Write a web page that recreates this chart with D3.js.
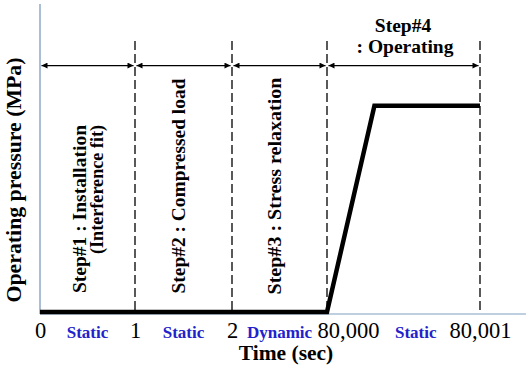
<!DOCTYPE html>
<html>
<head>
<meta charset="utf-8">
<script src="https://cdn.jsdelivr.net/npm/d3@7.9.0/dist/d3.min.js"></script>
<style>
  body { margin: 0; background: #fff; }
  svg { display: block; font-family: "Times New Roman", "Liberation Serif", Times, serif; }
</style>
</head>
<body>
<div id="chart"></div>
<script>
// data
const timeKnots = [0, 1, 2, 80000, 80001];
const tickLabels = ['0', '1', '2', '80,000', '80,001'];
const pressureTime = [0, 1, 2, 80000, 80000.31, 80001];
const pressureValue = [0, 0, 0, 0, 67, 67];
const phaseNames = ['Static', 'Static', 'Dynamic', 'Static'];
const phaseTime = [0.5, 1.5, 40001, 80000.58];
const stepStart = [0, 1, 2, 80000];
const stepEnd = [1, 2, 80000, 80001];
const dividerTime = [1, 2, 80000, 80001];

const width = 529;
const height = 376;

const svg = d3.select('#chart')
    .append('svg')
    .attr('width', width)
    .attr('height', height);

// piecewise time axis (broken scale between 2 and 80,000)
const xScale = d3.scaleLinear()
    .domain(timeKnots)
    .range([40, 135, 232, 327, 480]);

const yScale = d3.scaleLinear()
    .domain([0, 100])
    .range([312, 4]);

const axisY = yScale(0) + 2;

const defs = svg.append('defs');
defs.append('marker')
    .attr('id', 'arrow')
    .attr('viewBox', '0 0 10 10')
    .attr('refX', 10)
    .attr('refY', 5)
    .attr('markerWidth', 10)
    .attr('markerHeight', 6)
    .attr('markerUnits', 'userSpaceOnUse')
    .attr('orient', 'auto-start-reverse')
    .append('path')
    .attr('d', 'M0,0 L10,5 L0,10 Z')
    .attr('fill', '#000');

// axes lines
svg.append('line')
    .attr('x1', xScale(0)).attr('x2', xScale(0))
    .attr('y1', axisY).attr('y2', yScale(100))
    .attr('stroke', '#8fa8c8')
    .attr('stroke-width', 1.5);

svg.append('line')
    .attr('x1', xScale(0)).attr('x2', xScale(80001.3))
    .attr('y1', axisY).attr('y2', axisY)
    .attr('stroke', '#a9bfd8')
    .attr('stroke-width', 1.5);

// dashed step dividers
svg.append('g')
    .selectAll('line')
    .data(dividerTime)
    .join('line')
    .attr('x1', d => xScale(d)).attr('x2', d => xScale(d))
    .attr('y1', yScale(88)).attr('y2', axisY)
    .attr('stroke', '#000')
    .attr('stroke-width', 1.3)
    .attr('stroke-dasharray', '9,4');

// step arrows
svg.append('g')
    .selectAll('line')
    .data(stepStart.map((s, i) => [s, stepEnd[i]]))
    .join('line')
    .attr('x1', d => xScale(d[0]) + 1.5).attr('x2', d => xScale(d[1]) - 1.5)
    .attr('y1', yScale(80)).attr('y2', yScale(80))
    .attr('stroke', '#000')
    .attr('stroke-width', 1.3)
    .attr('marker-start', 'url(#arrow)')
    .attr('marker-end', 'url(#arrow)');

// pressure history
const line = d3.line()
    .x((d, i) => xScale(pressureTime[i]))
    .y(d => yScale(d));

svg.append('path')
    .datum(pressureValue)
    .attr('d', line)
    .attr('fill', 'none')
    .attr('stroke', '#000')
    .attr('stroke-width', 4.5)
    .attr('stroke-linejoin', 'miter');

// x tick labels
const xAxis = d3.axisBottom(xScale)
    .tickValues(timeKnots)
    .tickSize(0)
    .tickFormat((d, i) => tickLabels[i]);

const gx = svg.append('g')
    .attr('transform', `translate(0, ${axisY})`)
    .call(xAxis);
gx.select('.domain').remove();
gx.selectAll('text')
    .attr('y', 24)
    .attr('dy', 0)
    .attr('dx', d => d === 80000 ? 21 : 0)
    .attr('font-size', 22.5)
    .attr('font-family', '"Times New Roman", "Liberation Serif", serif')
    .attr('fill', '#000');

// phase labels
svg.append('g')
    .selectAll('text')
    .data(phaseNames)
    .join('text')
    .attr('x', (d, i) => xScale(phaseTime[i]))
    .attr('y', axisY + 24)
    .attr('text-anchor', 'middle')
    .attr('font-size', 17)
    .attr('font-weight', 'bold')
    .attr('fill', '#2222cc')
    .text(d => d);

// axis titles
svg.append('text')
    .attr('x', 286)
    .attr('y', 360)
    .attr('text-anchor', 'middle')
    .attr('font-size', 21.5)
    .attr('font-weight', 'bold')
    .text('Time (sec)');

svg.append('text')
    .attr('transform', 'rotate(-90)')
    .attr('x', -180)
    .attr('y', 21)
    .attr('text-anchor', 'middle')
    .attr('font-size', 21.5)
    .attr('font-weight', 'bold')
    .attr('textLength', 245)
    .attr('lengthAdjust', 'spacingAndGlyphs')
    .text('Operating pressure (MPa)');

// step labels (vertical)
const vText = (x, y, anchor, len, str) => svg.append('text')
    .attr('transform', `translate(${x}, ${y}) rotate(-90)`)
    .attr('text-anchor', anchor)
    .attr('font-size', 19.5)
    .attr('font-weight', 'bold')
    .attr('textLength', len)
    .attr('lengthAdjust', 'spacingAndGlyphs')
    .text(str);

vText(86, 125, 'end', 168, 'Step#1 : Installation');
vText(103, 125, 'end', 129, '(Interference fit)');
vText(185, 186, 'middle', 215, 'Step#2 : Compressed load');
vText(281, 186, 'middle', 217, 'Step#3 : Stress relaxation');

svg.append('text')
    .attr('x', 403)
    .attr('y', 32)
    .attr('text-anchor', 'middle')
    .attr('font-size', 19.5)
    .attr('font-weight', 'bold')
    .text('Step#4');

svg.append('text')
    .attr('x', 405)
    .attr('y', 53)
    .attr('text-anchor', 'middle')
    .attr('font-size', 19.5)
    .attr('font-weight', 'bold')
    .text(': Operating');
</script>
</body>
</html>
